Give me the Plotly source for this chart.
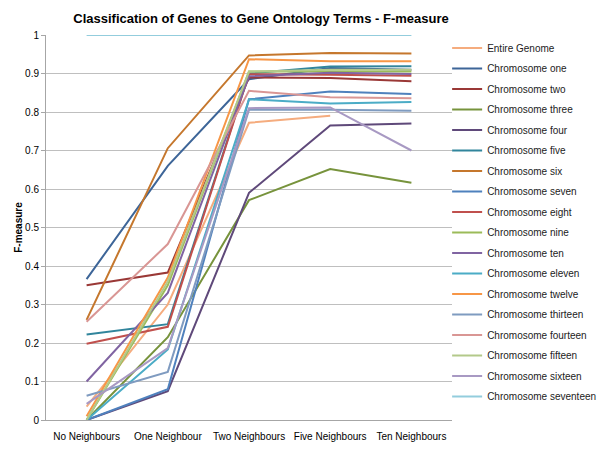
import plotly.graph_objects as go

categories = ["No Neighbours", "One Neighbour", "Two Neighbours", "Five Neighbours", "Ten Neighbours"]

series_names = ["Entire Genome", "Chromosome one", "Chromosome two", "Chromosome three",
                "Chromosome four", "Chromosome five", "Chromosome six", "Chromosome seven",
                "Chromosome eight", "Chromosome nine", "Chromosome ten", "Chromosome eleven",
                "Chromosome twelve", "Chromosome thirteen", "Chromosome fourteen",
                "Chromosome fifteen", "Chromosome sixteen", "Chromosome seventeen"]

entire_genome = [0.035, 0.30, 0.772, 0.79, None]
chr_one = [0.366, 0.66, 0.885, 0.914, 0.91]
chr_two = [0.35, 0.383, 0.89, 0.888, 0.88]
chr_three = [0.0, 0.215, 0.571, 0.652, 0.616]
chr_four = [0.0, 0.075, 0.59, 0.765, 0.77]
chr_five = [0.222, 0.249, 0.90, 0.918, 0.919]
chr_six = [0.26, 0.706, 0.947, 0.953, 0.952]
chr_seven = [0.0, 0.08, 0.833, 0.853, 0.847]
chr_eight = [0.198, 0.242, 0.898, 0.897, 0.894]
chr_nine = [0.0, 0.35, 0.905, 0.905, 0.905]
chr_ten = [0.1, 0.33, 0.893, 0.902, 0.899]
chr_eleven = [0.0, 0.183, 0.833, 0.822, 0.826]
chr_twelve = [0.01, 0.37, 0.937, 0.932, 0.932]
chr_thirteen = [0.063, 0.125, 0.806, 0.806, 0.803]
chr_fourteen = [0.255, 0.457, 0.855, 0.838, 0.836]
chr_fifteen = [0.0, 0.36, 0.905, 0.91, 0.91]
chr_sixteen = [0.042, 0.187, 0.81, 0.812, 0.70]
chr_seventeen = [1.0, 1.0, 1.0, 1.0, 1.0]

y_tick_values = [0, 0.1, 0.2, 0.3, 0.4, 0.5, 0.6, 0.7, 0.8, 0.9, 1]
y_tick_labels = ["0", "0.1", "0.2", "0.3", "0.4", "0.5", "0.6", "0.7", "0.8", "0.9", "1"]

all_values = [entire_genome, chr_one, chr_two, chr_three, chr_four, chr_five, chr_six,
              chr_seven, chr_eight, chr_nine, chr_ten, chr_eleven, chr_twelve,
              chr_thirteen, chr_fourteen, chr_fifteen, chr_sixteen, chr_seventeen]

colors = ["#F5AC7E", "#3D6598", "#9A3836", "#77933C", "#5F497A", "#31859C", "#C5772D",
          "#4F81BD", "#C0504D", "#9BBB59", "#8064A2", "#4BACC6", "#F79646",
          "#7F9BC0", "#D99694", "#B3C98A", "#A899C3", "#93CDDD"]

font_family = "Arial, Liberation Sans, sans-serif"

fig = go.Figure()
for i, (name, vals, col) in enumerate(zip(series_names, all_values, colors)):
    fig.add_trace(go.Scatter(
        x=categories, y=vals, name=name, mode="lines",
        line=dict(color=col, width=2), legendgroup=f"g{i}",
    ))

fig.update_layout(
    width=600, height=450,
    paper_bgcolor="white", plot_bgcolor="white",
    margin=dict(l=46, r=148, t=35, b=30, autoexpand=False),
    title=dict(text="<b>Classification of Genes to Gene Ontology Terms - F-measure</b>",
               x=0.435, xanchor="center", y=0.96, yanchor="middle",
               font=dict(family=font_family, size=13, color="black")),
    font=dict(family=font_family, size=10, color="black"),
    showlegend=True,
    legend=dict(x=0.988, xanchor="left", y=1.004, yanchor="top",
                font=dict(family=font_family, size=10, color="#222"),
                itemwidth=30, maxheight=440, tracegroupgap=1.5,
                bgcolor="rgba(0,0,0,0)"),
    xaxis=dict(type="category", range=[-0.5, 4.5], showgrid=False,
               showline=True, linecolor="#A6A6A6", linewidth=1, tickangle=0,
               ticks="outside", ticklen=7, tickcolor="rgba(0,0,0,0)",
               tickfont=dict(size=10), zeroline=False),
    yaxis=dict(range=[0, 1], tickvals=y_tick_values, ticktext=y_tick_labels, showgrid=True,
               gridcolor="#BFBFBF", gridwidth=1, showline=True,
               linecolor="#A6A6A6", linewidth=1, ticks="outside", ticklen=4,
               tickcolor="#A6A6A6", zeroline=False, tickfont=dict(size=10),
               title=dict(text="<b>F-measure</b>", font=dict(size=10), standoff=0)),
)

fig.write_html("out.html", config={"displayModeBar": False})

with open("out.html", "r", encoding="utf-8") as f:
    html = f.read()
html = html.replace("<head>", "<head><style>body{margin:0;}</style>", 1)
with open("out.html", "w", encoding="utf-8") as f:
    f.write(html)
